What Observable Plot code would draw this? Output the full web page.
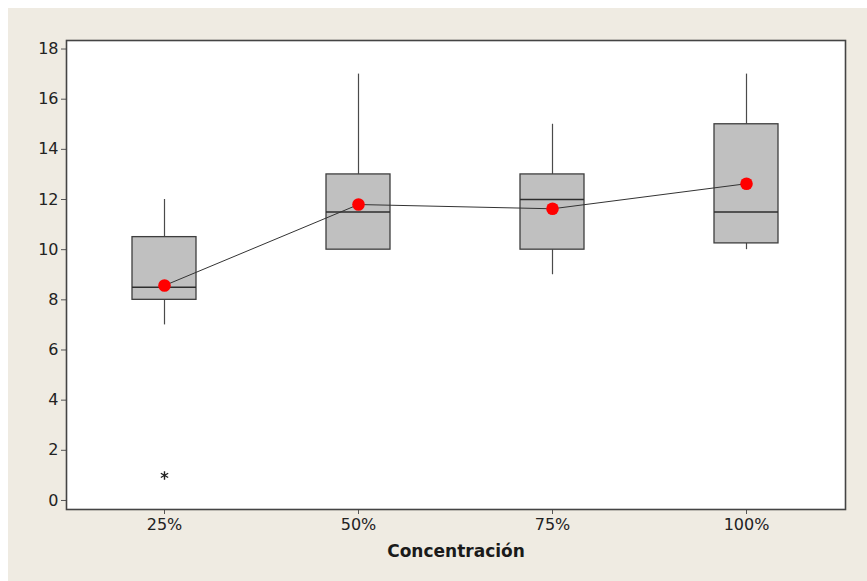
<!DOCTYPE html>
<html>
<head>
<meta charset="utf-8">
<script src="https://cdn.jsdelivr.net/npm/d3@7"></script>
<script src="https://cdn.jsdelivr.net/npm/@observablehq/plot@0.6"></script>
<style>
  html, body { margin: 0; padding: 0; background: #ffffff; }
  #wrap { padding: 8px 0 0 8px; width: 859px; height: 573px; }
  #wrap svg { display: block; }
</style>
</head>
<body>
<div id="wrap"></div>
<script>
const categories = ["25%", "50%", "75%", "100%"];
const whiskerLow = [7, 10, 9, 10];
const q1 = [8, 10, 10, 10.25];
const median = [8.5, 11.5, 12, 11.5];
const q3 = [10.5, 13, 13, 15];
const whiskerHigh = [12, 17, 15, 17];
const means = [8.57, 11.8, 11.63, 12.63];
const outlierCategories = ["25%"];
const outlierValues = [1];
const yTicks = [0, 2, 4, 6, 8, 10, 12, 14, 16, 18];

const boxes = categories.map((c, i) => ({
  cat: c, lo: whiskerLow[i], q1: q1[i], med: median[i], q3: q3[i], hi: whiskerHigh[i], mean: means[i]
}));
const outliers = outlierCategories.map((c, i) => ({cat: c, v: outlierValues[i]}));

const chart = Plot.plot({
  width: 859,
  height: 573,
  marginLeft: 58,
  marginRight: 22,
  marginTop: 32,
  marginBottom: 72,
  style: {background: "#efebe2", fontFamily: "DejaVu Sans, Verdana, sans-serif", overflow: "visible"},
  x: {domain: categories, type: "band", paddingInner: 0.67, paddingOuter: 0.335, label: null},
  y: {domain: [-0.36, 18.34], label: null},
  marks: [
    Plot.frame({fill: "#ffffff", stroke: null}),
    Plot.axisY({ticks: yTicks, tickSize: 5, tickPadding: 3, fontSize: 16, color: "#222", stroke: "#555", label: null}),
    Plot.axisX({tickSize: 5, tickPadding: 4, fontSize: 16, color: "#222", stroke: "#555", label: null}),
    Plot.ruleX(boxes, {x: "cat", y1: "lo", y2: "q1", stroke: "#4a4a4a", strokeWidth: 1.2}),
    Plot.ruleX(boxes, {x: "cat", y1: "q3", y2: "hi", stroke: "#4a4a4a", strokeWidth: 1.2}),
    Plot.barY(boxes, {x: "cat", y1: "q1", y2: "q3", fill: "#c0c0c0", stroke: "#3e3e3e", strokeWidth: 1.3}),
    Plot.tickY(boxes, {x: "cat", y: "med", stroke: "#2e2e2e", strokeWidth: 1.6}),
    Plot.lineY(boxes, {x: "cat", y: "mean", stroke: "#333", strokeWidth: 1}),
    Plot.dot(boxes, {x: "cat", y: "mean", r: 6.3, fill: "#ff0000", stroke: null}),
    Plot.dot(outliers, {x: "cat", y: "v", symbol: "asterisk", r: 4, stroke: "#222", strokeWidth: 1.4}),
    Plot.frame({stroke: "#444", strokeWidth: 1.6}),
    Plot.text(["Concentración"], {frameAnchor: "bottom", dy: 47, fontWeight: "bold", fontSize: 17, fill: "#1a1a1a"})
  ]
});
document.getElementById("wrap").appendChild(chart);
</script>
</body>
</html>
